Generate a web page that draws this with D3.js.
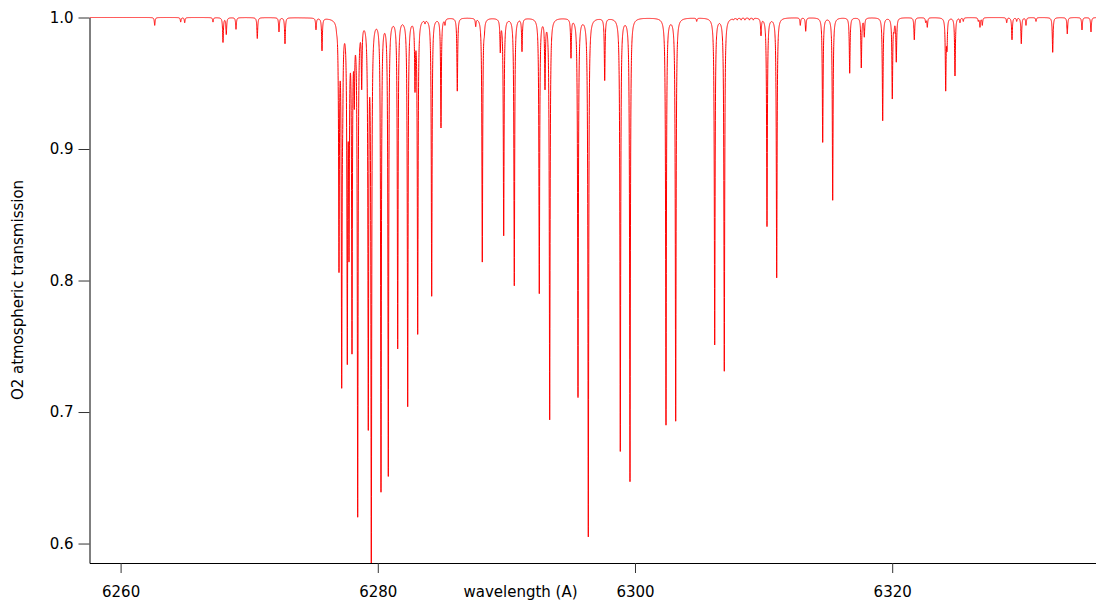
<!DOCTYPE html>
<html><head><meta charset="utf-8">
<script src="https://cdn.jsdelivr.net/npm/d3@7"></script>
<style>
html,body{margin:0;padding:0;background:#fff;}
svg{display:block;font-family:"DejaVu Sans",sans-serif;}
</style></head>
<body><svg id="c" width="1096" height="600"></svg>
<script>
// absorption line centres (wavelength, A) and line-core transmission
const lineCenters = [6262.652,6264.673,6264.984,6267.185,6267.963,6268.219,6268.974,6270.630,6272.317,6272.784,
6275.194,6275.661,6276.804,6276.983,6277.193,6277.271,6277.629,6277.761,6277.994,6278.173,
6278.437,6278.748,6279.261,6279.495,6279.627,6280.249,6280.817,6281.361,6281.548,6282.038,
6282.193,6282.325,6282.893,6283.103,6283.671,6284.191,6284.914,6285.226,6286.182,6287.613,
6288.126,6288.282,6289.526,6289.790,6290.614,6291.213,6292.558,6293.002,6293.367,6295.023,
6295.568,6296.369,6297.644,6298.857,6299.611,6302.411,6303.165,6304.798,6306.198,6306.944,
6307.65,6307.95,6308.25,6308.55,6308.90,6309.20,
6309.798,6310.264,6311.019,6312.854,6313.274,6314.596,6315.373,6316.695,6317.597,6317.831,
6319.261,6320.008,6320.140,6320.319,6321.719,6322.605,6322.730,6324.160,6324.261,6324.883,
6325.272,6325.529,6326.695,6326.827,6327.006,6328.904,6329.316,6329.681,6330.039,6330.404,
6331.182,6332.481,6333.616,6334.759,6335.459];
const lineMinima = [0.994,0.9965,0.996,0.9965,0.981,0.987,0.991,0.984,0.989,0.980,
0.9906,0.9746,0.987,0.806,0.718,0.912,0.736,0.814,0.744,0.930,
0.620,0.945,0.686,0.570,0.972,0.639,0.651,0.990,0.748,0.993,
0.990,0.704,0.943,0.759,0.995,0.788,0.916,0.994,0.944,0.993,
0.814,0.985,0.973,0.834,0.796,0.974,0.790,0.945,0.694,0.969,
0.711,0.605,0.952,0.670,0.647,0.690,0.693,0.997,0.751,0.731,
0.998,0.998,0.998,0.998,0.998,0.998,
0.986,0.841,0.802,0.994,0.9895,0.905,0.861,0.9576,0.9616,0.985,
0.9215,0.938,0.988,0.966,0.983,0.996,0.9925,0.944,0.974,0.9555,
0.996,0.997,0.997,0.9925,0.994,0.996,0.983,0.997,0.980,0.994,
0.997,0.9735,0.9875,0.9905,0.989];
const xTicks = [6260, 6280, 6300, 6320];
const yTicks = [0.6, 0.7, 0.8, 0.9, 1.0];
const xTitle = "wavelength (A)";
const yTitle = "O2 atmospheric transmission";

const svg = d3.select("#c");
const mLeft = 89.5, mRight = 1096, mTop = 17.5, mBottom = 563;
const x = d3.scaleLinear().domain([6257.582, 6335.848]).range([mLeft, mRight]);
const y = d3.scaleLinear().domain([0.5852, 1.0]).range([mBottom, mTop]);

// spectrum = product of Lorentzian line profiles, depths adjusted so each core hits its read minimum
const gamma = 0.035;
const prof = (dx) => gamma * gamma / (dx * dx + gamma * gamma);
const lines = lineCenters.map((c, i) => ({c, m: lineMinima[i], d: 1 - lineMinima[i]}));
for (let it = 0; it < 8; it++) {
  lines.forEach((li, i) => {
    let r = 1;
    lines.forEach((lj, j) => { if (j !== i) r *= 1 - lj.d * prof(li.c - lj.c); });
    li.d = Math.max(0, Math.min(0.99, 1 - li.m / r));
  });
}
const trans = (w) => {
  let t = 1;
  for (const l of lines) t *= 1 - l.d * prof(w - l.c);
  return t;
};
const grid = d3.range(x.domain()[0], x.domain()[1], 0.004).concat(lineCenters).sort((a, b) => a - b);
const spec = grid.map(w => [w, trans(w)]);

svg.append("clipPath").attr("id", "clip").append("rect")
  .attr("x", mLeft).attr("y", 0).attr("width", mRight - mLeft).attr("height", mBottom);

svg.append("path").datum(spec)
  .attr("clip-path", "url(#clip)")
  .attr("fill", "none").attr("stroke", "#ff0000").attr("stroke-width", 1)
  .attr("d", d3.line().x(d => x(d[0])).y(d => y(d[1])));

const xAxis = svg.append("g").attr("transform", `translate(0,${mBottom})`)
  .call(d3.axisBottom(x).tickValues(xTicks).tickFormat(d3.format("d")).tickSize(10).tickSizeOuter(0).tickPadding(13));
const yAxis = svg.append("g").attr("transform", `translate(${mLeft},0)`)
  .call(d3.axisLeft(y).tickValues(yTicks).tickFormat(d3.format(".1f")).tickSize(11).tickSizeOuter(0).tickPadding(5));
[xAxis, yAxis].forEach(g => {
  g.selectAll("text").attr("font-size", 15).attr("font-family", "DejaVu Sans, sans-serif").attr("fill", "#000");
  g.select(".domain").attr("stroke", "#000");
  g.selectAll(".tick line").attr("stroke", "#333");
});

svg.append("text").attr("x", 520.5).attr("y", 597).attr("text-anchor", "middle")
  .attr("font-size", 15).text(xTitle);
svg.append("text").attr("transform", "translate(23,290) rotate(-90)").attr("text-anchor", "middle")
  .attr("font-size", 15).text(yTitle);
</script></body></html>
